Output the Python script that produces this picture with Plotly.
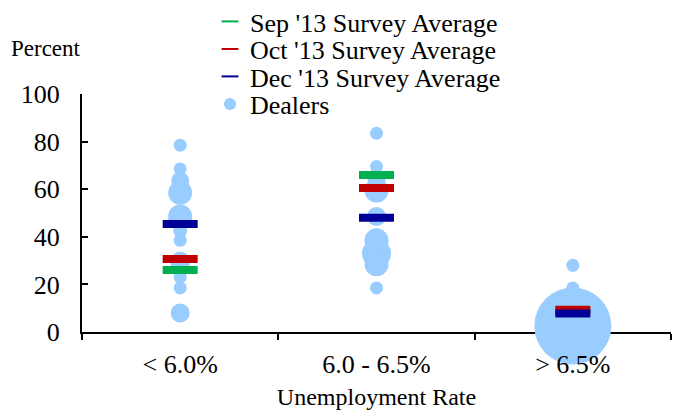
import plotly.graph_objects as go

# ---- data ----
categories = ["< 6.0%", "6.0 - 6.5%", "> 6.5%"]

dealer_cat = (["< 6.0%"] * 11) + (["6.0 - 6.5%"] * 9) + (["> 6.5%"] * 3)
dealer_prob = [78.5, 68.5, 63.5, 58.5, 48.5, 42.5, 38.5, 29.5, 23, 18.5, 8,
               83.5, 69.5, 64, 59.5, 48.5, 38.5, 33, 28.5, 18.5,
               28, 18.5, 2.5]
dealer_weight = [13, 13, 18, 24, 24, 14, 13, 20, 13, 13, 19,
                 13, 13, 18, 24, 19, 24, 29, 24, 13,
                 13, 13, 77]

sep13_avg = [26, 66, 8.5]
oct13_avg = [30.7, 60.5, 9.3]
dec13_avg = [45.4, 48, 7.8]

y_ticks = [0, 20, 40, 60, 80, 100]

# ---- styling ----
FONT = "Liberation Serif, Times New Roman, serif"
DEALER_COLOR = "#99CCFF"
SEP_COLOR = "#00B050"
OCT_COLOR = "#C00000"
DEC_COLOR = "#000099"

W, H = 676, 413
ML, MR, MT, MB = 82, 5, 94, 81
PW = W - ML - MR
PH = H - MT - MB


def px_x(px):
    return (px - ML) / PW


def px_y(py):
    return (H - MB - py) / PH


fig = go.Figure()

fig.add_trace(go.Scatter(
    x=dealer_cat, y=dealer_prob, mode="markers", name="Dealers",
    marker=dict(size=dealer_weight, sizemode="diameter", color=DEALER_COLOR,
                opacity=1, line=dict(width=0)),
    cliponaxis=False, legend="legend4", hoverinfo="x+y",
))

for name, vals, col, lg in [
    ("Sep '13 Survey Average", sep13_avg, SEP_COLOR, "legend"),
    ("Oct '13 Survey Average", oct13_avg, OCT_COLOR, "legend2"),
    ("Dec '13 Survey Average", dec13_avg, DEC_COLOR, "legend3"),
]:
    fig.add_trace(go.Scatter(
        x=categories, y=vals, mode="markers", name=name,
        marker=dict(symbol="line-ew", size=25, color=col,
                    line=dict(width=8, color=col)),
        cliponaxis=False, legend=lg,
    ))

row_centers = [21.5, 49, 76.5, 104]
leg_x = px_x(210)
legend_common = dict(
    x=leg_x, xanchor="left", yanchor="middle", bgcolor="rgba(0,0,0,0)",
    borderwidth=0, font=dict(family=FONT, size=26, color="black"),
    itemsizing="constant",
)

fig.update_layout(
    width=W, height=H, autosize=False,
    margin=dict(l=ML, r=MR, t=MT, b=MB, pad=0, autoexpand=False),
    plot_bgcolor="white", paper_bgcolor="white",
    font=dict(family=FONT, size=26, color="black"),
    showlegend=True,
    legend=dict(y=px_y(row_centers[0]), **legend_common),
    legend2=dict(y=px_y(row_centers[1]), **legend_common),
    legend3=dict(y=px_y(row_centers[2]), **legend_common),
    legend4=dict(y=px_y(row_centers[3]), **legend_common),
    xaxis=dict(
        type="category", categoryorder="array", categoryarray=categories,
        range=[-0.5, 2.5], showline=True, linecolor="black", linewidth=2,
        ticks="outside", tickson="boundaries", ticklen=6, tickwidth=2,
        tickcolor="black", showticklabels=False, showgrid=False,
        zeroline=False, layer="below traces", fixedrange=True,
    ),
    xaxis2=dict(
        overlaying="x", anchor="y", side="bottom", range=[-0.5, 2.5],
        tickmode="array", tickvals=[0, 1, 2], ticktext=categories,
        ticks="", showline=False, showgrid=False, zeroline=False,
        tickfont=dict(family=FONT, size=26, color="black"),
        ticklabelstandoff=14,
        title=dict(text="Unemployment Rate", standoff=10,
                   font=dict(family=FONT, size=24, color="black")),
        layer="above traces", fixedrange=True,
    ),
    yaxis=dict(
        range=[0, 100], tickmode="array", tickvals=y_ticks,
        showline=True, linecolor="black", linewidth=2,
        ticks="inside", ticklen=6, tickwidth=2, tickcolor="black",
        tickfont=dict(family=FONT, size=26, color="black"),
        ticklabelstandoff=15,
        showgrid=False, zeroline=False, fixedrange=True,
    ),
    annotations=[dict(
        text="Percent", xref="paper", yref="paper",
        x=px_x(46), y=px_y(48), xanchor="center", yanchor="middle",
        showarrow=False, font=dict(family=FONT, size=23, color="black"),
    )],
)

# invisible helper so the overlay axis is drawn
fig.add_trace(go.Scatter(x=[0], y=[0], xaxis="x2", mode="markers",
                         marker=dict(opacity=0), showlegend=False,
                         hoverinfo="skip"))

fig.write_html("out.html",
               config={"displayModeBar": False},
               post_script="document.body.style.margin='0';")
